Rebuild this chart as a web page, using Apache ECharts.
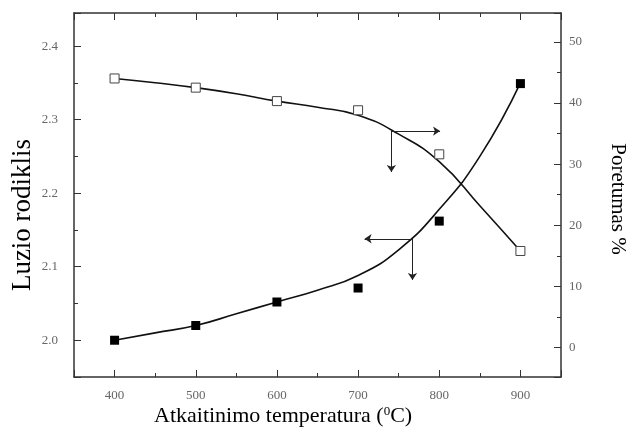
<!DOCTYPE html>
<html><head><meta charset="utf-8">
<script src="https://cdn.jsdelivr.net/npm/echarts@6/dist/echarts.min.js"></script>
<style>html,body{margin:0;padding:0;background:#fff}#c{width:634px;height:441px}</style>
</head><body><div id="c"></div>
<script>
// ---- data ----
const temps = [400, 500, 600, 700, 800, 900];
const refractiveIndex = [2.000, 2.020, 2.052, 2.071, 2.162, 2.349];
const porosity = [44.0, 42.5, 40.3, 38.8, 31.6, 15.8];
// fitted curves
const fitTemps = [400, 450, 500, 550, 600, 650, 700, 750, 800, 850, 900];
const refractiveFit = [2.000, 2.010, 2.020, 2.036, 2.052, 2.068, 2.088, 2.123, 2.178, 2.250, 2.350];
const porosityFit = [44.0, 43.3, 42.5, 41.5, 40.3, 39.3, 38.0, 34.9, 30.4, 23.2, 15.8];
// tick labels
const xTickLabels = ['400', '500', '600', '700', '800', '900'];
const leftTickLabels = ['2.0', '2.1', '2.2', '2.3', '2.4'];
const rightTickLabels = ['0', '10', '20', '30', '40', '50'];
// arrow annotations (data coordinates): start point, then end points
const porosityArrowStart = [741, 35.4];
const porosityArrowEnds = [[801, 35.4], [741, 28.7]];
const refractiveArrowStart = [767, 2.138];
const refractiveArrowEnds = [[708, 2.138], [767, 2.082]];

const SERIF = '"Liberation Serif", "Times New Roman", serif';
const frameLine = { show: true, onZero: false, lineStyle: { color: '#333', width: 1.5 } };
const tickStyle = { color: '#333', width: 1 };

function labelFmt(list) {
  return function (v) {
    for (const s of list) { if (Math.abs(parseFloat(s) - v) < 1e-6) return s; }
    return '';
  };
}
const tickLabelStyle = { color: '#666', fontFamily: SERIF, fontSize: 13 };

function majorAxis(position, min, max, step, split, labels, margin) {
  return {
    type: 'value', position: position, min: min, max: max,
    splitNumber: split, minInterval: step, maxInterval: step,
    axisLine: frameLine,
    axisTick: { show: true, inside: true, length: 7, lineStyle: tickStyle },
    axisLabel: labels ? Object.assign({ show: true, margin: margin, formatter: labelFmt(labels) }, tickLabelStyle) : { show: false },
    splitLine: { show: false }
  };
}
function minorAxis(position, min, max, step, split) {
  return {
    type: 'value', position: position, min: min, max: max,
    splitNumber: split, minInterval: step, maxInterval: step,
    axisLine: { show: false, onZero: false },
    axisTick: { show: true, inside: true, length: 4, lineStyle: tickStyle },
    axisLabel: { show: false },
    splitLine: { show: false }
  };
}

const X_MIN = 350, X_MAX = 950;
const L_MIN = 1.95, L_MAX = 2.445;
const R_MIN = -4.8, R_MAX = 54.7;

const zip = (a, b) => a.map((v, i) => [v, b[i]]);
const arrowLines = (start, ends) => ends.map(e => [{ coord: start }, { coord: e }]);

const markLineBase = {
  silent: true, animation: false,
  symbol: ['none', 'arrow'], symbolSize: 7,
  label: { show: false },
  lineStyle: { color: '#222', width: 1, type: 'solid' },
  emphasis: { disabled: true }
};

const option = {
  animation: false,
  backgroundColor: '#fff',
  grid: { left: 74, right: 73, top: 13, bottom: 64, containLabel: false },
  xAxis: [
    majorAxis('bottom', X_MIN, X_MAX, 100, 6, xTickLabels, 12),
    minorAxis('bottom', X_MIN, X_MAX, 50, 12),
    majorAxis('top', X_MIN, X_MAX, 100, 6, null),
    minorAxis('top', X_MIN, X_MAX, 50, 12)
  ],
  yAxis: [
    majorAxis('left', L_MIN, L_MAX, 0.1, 5, leftTickLabels, 16),
    minorAxis('left', L_MIN, L_MAX, 0.05, 10),
    majorAxis('right', R_MIN, R_MAX, 10, 6, rightTickLabels, 8),
    minorAxis('right', R_MIN, R_MAX, 5, 12)
  ],
  series: [
    {
      name: 'refractive fit', type: 'line', xAxisIndex: 0, yAxisIndex: 0,
      data: zip(fitTemps, refractiveFit), smooth: 0.5, showSymbol: false,
      lineStyle: { color: '#111', width: 1.6 }, z: 2,
      markLine: Object.assign({ data: arrowLines(refractiveArrowStart, refractiveArrowEnds) }, markLineBase)
    },
    {
      name: 'porosity fit', type: 'line', xAxisIndex: 0, yAxisIndex: 2,
      data: zip(fitTemps, porosityFit), smooth: 0.5, showSymbol: false,
      lineStyle: { color: '#111', width: 1.6 }, z: 2,
      markLine: Object.assign({ data: arrowLines(porosityArrowStart, porosityArrowEnds) }, markLineBase)
    },
    {
      name: 'Luzio rodiklis', type: 'scatter', xAxisIndex: 0, yAxisIndex: 0,
      data: zip(temps, refractiveIndex), symbol: 'rect', symbolSize: 9,
      itemStyle: { color: '#000', opacity: 1 }, z: 5
    },
    {
      name: 'Poretumas', type: 'scatter', xAxisIndex: 0, yAxisIndex: 2,
      data: zip(temps, porosity), symbol: 'rect', symbolSize: 9,
      itemStyle: { color: '#fff', borderColor: '#444', borderWidth: 1, opacity: 1 }, z: 5
    }
  ],
  graphic: [
    {
      type: 'text', left: 154, top: 405, z: 10,
      style: {
        text: 'Atkaitinimo temperatura ({sup|0}C)',
        font: '22px ' + SERIF, fill: '#000',
        rich: { sup: { fontSize: 13, fontFamily: SERIF, verticalAlign: 'top', fill: '#000', padding: [0, 0, 10, 0] } }
      }
    },
    {
      type: 'text', x: 23, y: 215, rotation: Math.PI / 2, z: 10,
      style: { text: 'Luzio rodiklis', font: '27px ' + SERIF, fill: '#000', align: 'center', verticalAlign: 'middle' }
    },
    {
      type: 'text', x: 618, y: 199, rotation: -Math.PI / 2, z: 10,
      style: { text: 'Poretumas %', font: '21px ' + SERIF, fill: '#000', align: 'center', verticalAlign: 'middle' }
    }
  ]
};

const chart = echarts.init(document.getElementById('c'), null, { renderer: 'canvas' });
chart.setOption(option);
</script>
</body></html>
